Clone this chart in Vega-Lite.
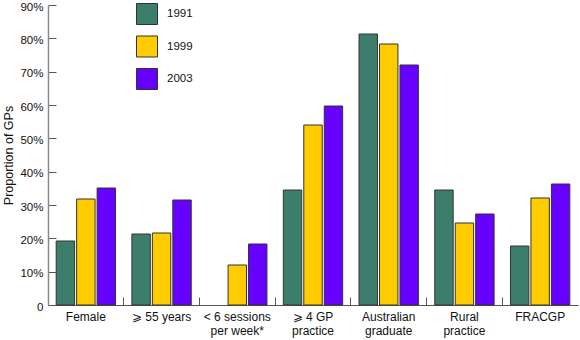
{
  "$schema": "https://vega.github.io/schema/vega-lite/v6.json",
  "width": 530,
  "height": 300,
  "autosize": {"type": "none"},
  "padding": {"left": 48, "top": 5, "right": 2, "bottom": 35},
  "background": "white",
  "config": {
    "view": {"stroke": null},
    "font": "Liberation Sans"
  },
  "data": {
    "values": [
      {"cat": "Female", "year": "1991", "value": 19.2},
      {"cat": "Female", "year": "1999", "value": 31.8},
      {"cat": "Female", "year": "2003", "value": 35.1},
      {"cat": "⩾ 55 years", "year": "1991", "value": 21.3},
      {"cat": "⩾ 55 years", "year": "1999", "value": 21.6},
      {"cat": "⩾ 55 years", "year": "2003", "value": 31.5},
      {"cat": "< 6 sessions|per week*", "year": "1999", "value": 12.0},
      {"cat": "< 6 sessions|per week*", "year": "2003", "value": 18.3},
      {"cat": "⩾ 4 GP|practice", "year": "1991", "value": 34.5},
      {"cat": "⩾ 4 GP|practice", "year": "1999", "value": 54.0},
      {"cat": "⩾ 4 GP|practice", "year": "2003", "value": 59.7},
      {"cat": "Australian|graduate", "year": "1991", "value": 81.3},
      {"cat": "Australian|graduate", "year": "1999", "value": 78.3},
      {"cat": "Australian|graduate", "year": "2003", "value": 72.0},
      {"cat": "Rural|practice", "year": "1991", "value": 34.5},
      {"cat": "Rural|practice", "year": "1999", "value": 24.6},
      {"cat": "Rural|practice", "year": "2003", "value": 27.3},
      {"cat": "FRACGP", "year": "1991", "value": 17.7},
      {"cat": "FRACGP", "year": "1999", "value": 32.1},
      {"cat": "FRACGP", "year": "2003", "value": 36.3}
    ]
  },
  "mark": {"type": "bar", "stroke": "#333333", "strokeWidth": 1},
  "encoding": {
    "x": {
      "field": "cat",
      "type": "nominal",
      "sort": null,
      "scale": {"paddingInner": 0, "paddingOuter": 0},
      "axis": {
        "title": null,
        "labelAngle": 0,
        "bandPosition": 0,
        "tickSize": -8,
        "tickColor": "#555555",
        "domainColor": "#555555",
        "labelPadding": 14,
        "labelFontSize": 12,
        "labelColor": "#111111",
        "labelLineHeight": 14.5,
        "labelExpr": "split(datum.label, '|')"
      }
    },
    "xOffset": {
      "field": "year",
      "type": "nominal",
      "scale": {"domain": ["1991", "1999", "2003"], "paddingInner": 0.1, "paddingOuter": 0.4}
    },
    "y": {
      "field": "value",
      "type": "quantitative",
      "scale": {"domain": [0, 90], "nice": false},
      "axis": {
        "title": "Proportion of GPs",
        "titleFontSize": 12.5,
        "titleFontWeight": "normal",
        "titleColor": "#111111",
        "titleX": -40,
        "titleY": 150,
        "titleAlign": "center",
        "titleBaseline": "middle",
        "titleAngle": -90,
        "values": [0, 10, 20, 30, 40, 50, 60, 70, 80, 90],
        "labelExpr": "datum.value == 0 ? '0' : datum.value + '%'",
        "labelOffset": 2,
        "grid": false,
        "tickSize": -8,
        "tickColor": "#555555",
        "domainColor": "#888888",
        "domainWidth": 1.5,
        "labelPadding": 13,
        "labelFontSize": 11.5,
        "labelColor": "#111111"
      }
    },
    "color": {
      "field": "year",
      "type": "nominal",
      "scale": {"domain": ["1991", "1999", "2003"], "range": ["#3d7d6c", "#ffcc00", "#6600ff"]},
      "legend": {
        "title": null,
        "orient": "none",
        "legendX": 88,
        "legendY": -2,
        "symbolType": "square",
        "symbolSize": 441,
        "symbolStrokeColor": "#333333",
        "symbolStrokeWidth": 1,
        "symbolOpacity": 1,
        "labelFontSize": 11.5,
        "labelColor": "#111111",
        "labelOffset": 9,
        "rowPadding": 6.5
      }
    }
  }
}
